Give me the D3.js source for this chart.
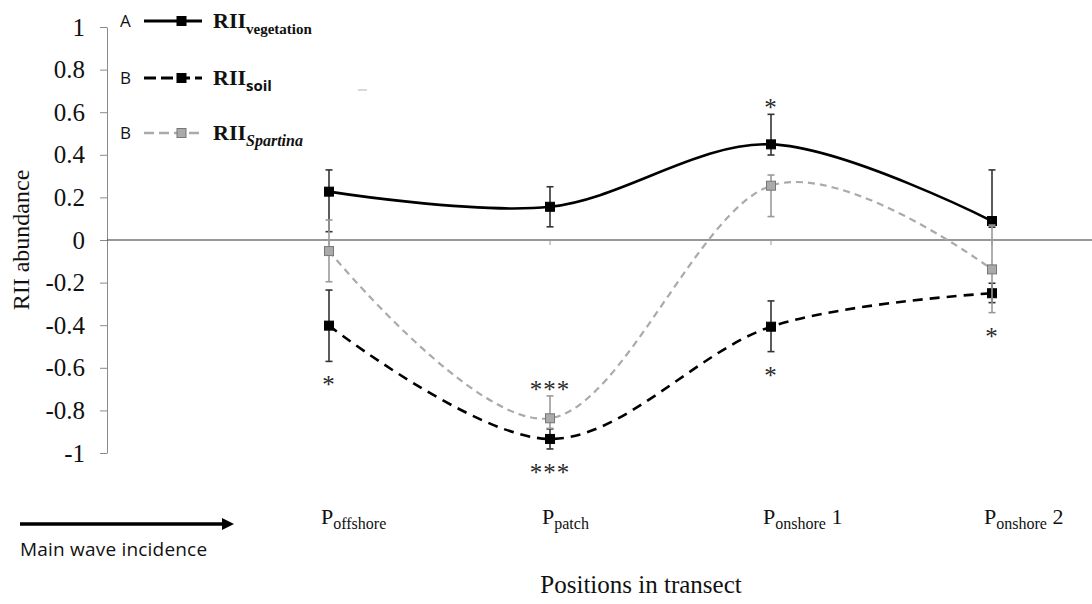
<!DOCTYPE html>
<html>
<head>
<meta charset="utf-8">
<script src="https://cdn.jsdelivr.net/npm/d3@7"></script>
<style>
  body { margin: 0; background: #fff; }
  svg { display: block; }
</style>
</head>
<body>
<div id="chart-area"></div>
<script>
// positions along the transect
var categories = ["Poffshore", "Ppatch", "Ponshore 1", "Ponshore 2"];
var catSub = ["offshore", "patch", "onshore", "onshore"];
var catSuffix = ["", "", " 1", " 2"];

// RII values and error bar ends
var vegetation = [0.227, 0.156, 0.449, 0.089];
var vegetationLo = [0.039, 0.062, 0.399, 0.06];
var vegetationHi = [0.329, 0.25, 0.59, 0.329];

var soil = [-0.402, -0.934, -0.407, -0.25];
var soilLo = [-0.57, -0.981, -0.524, -0.294];
var soilHi = [-0.235, -0.887, -0.286, -0.203];

var spartina = [-0.052, -0.837, 0.255, -0.138];
var spartinaLo = [-0.196, -0.884, 0.11, -0.341];
var spartinaHi = [0.094, -0.732, 0.305, 0.07];

// significance marks: series, position index, text, side
var sigMarks = [
  ["vegetation", 2, "*", "above"],
  ["soil", 0, "*", "below"],
  ["soil", 1, "***", "below"],
  ["soil", 2, "*", "below"],
  ["spartina", 1, "***", "above"],
  ["spartina", 3, "*", "below"]
];

var yTicks = [1, 0.8, 0.6, 0.4, 0.2, 0, -0.2, -0.4, -0.6, -0.8, -1];
var yTickLabels = ["1", "0.8", "0.6", "0.4", "0.2", "0", "-0.2", "-0.4", "-0.6", "-0.8", "-1"];

var serif = "Liberation Serif, serif";
var sans = "Open Sans, sans-serif";

var svg = d3.select("#chart-area").append("svg")
  .attr("width", 1092)
  .attr("height", 604);

var y = d3.scaleLinear().domain([-1, 1]).range([453, 27]);
var x = d3.scalePoint().domain(categories).range([329, 992]);

// y axis
var yAxis = svg.append("g")
  .attr("transform", "translate(107,0)")
  .call(d3.axisLeft(y).tickValues(yTicks)
    .tickFormat(function(d, i) { return yTickLabels[i]; })
    .tickSize(7).tickSizeOuter(0).tickPadding(15));
yAxis.select(".domain").attr("stroke", "#8a8a8a");
yAxis.selectAll(".tick line").attr("stroke", "#8a8a8a");
yAxis.selectAll(".tick text")
  .style("font-family", serif).style("font-size", "25px").attr("fill", "#111");

// zero line with category ticks
svg.append("line")
  .attr("x1", 107).attr("x2", 1092)
  .attr("y1", y(0)).attr("y2", y(0))
  .attr("stroke", "#333").attr("stroke-width", 1.1);
svg.selectAll(".xtick").data(categories).enter().append("line")
  .attr("x1", function(d) { return x(d); }).attr("x2", function(d) { return x(d); })
  .attr("y1", y(0)).attr("y2", y(0) + 5)
  .attr("stroke", "#999");

// y axis title
svg.append("text")
  .attr("transform", "translate(29," + y(0) + ") rotate(-90)")
  .attr("text-anchor", "middle")
  .style("font-family", serif).style("font-size", "24px").attr("fill", "#111")
  .text("RII abundance");

// series
var series = [
  { key: "vegetation", vals: vegetation, lo: vegetationLo, hi: vegetationHi,
    stroke: "#000", width: 2.6, dash: null, err: "#333", fill: "#000", mstroke: "#000" },
  { key: "soil", vals: soil, lo: soilLo, hi: soilHi,
    stroke: "#000", width: 2.6, dash: "10,7", err: "#333", fill: "#000", mstroke: "#000" },
  { key: "spartina", vals: spartina, lo: spartinaLo, hi: spartinaHi,
    stroke: "#aaa", width: 2.2, dash: "7,5", err: "#9a9a9a", fill: "#aaa", mstroke: "#777" }
];

var line = d3.line()
  .x(function(d, i) { return x(categories[i]); })
  .y(function(d) { return y(d); })
  .curve(d3.curveCardinal.tension(0));

series.forEach(function(s) {
  var g = svg.append("g");
  // error bars
  categories.forEach(function(c, i) {
    g.append("line")
      .attr("x1", x(c)).attr("x2", x(c))
      .attr("y1", y(s.lo[i])).attr("y2", y(s.hi[i]))
      .attr("stroke", s.err).attr("stroke-width", 1.6);
    [s.lo[i], s.hi[i]].forEach(function(v) {
      g.append("line")
        .attr("x1", x(c) - 3.5).attr("x2", x(c) + 3.5)
        .attr("y1", y(v)).attr("y2", y(v))
        .attr("stroke", s.err).attr("stroke-width", 1.6);
    });
  });
  g.append("path")
    .attr("d", line(s.vals))
    .attr("fill", "none")
    .attr("stroke", s.stroke)
    .attr("stroke-width", s.width)
    .attr("stroke-dasharray", s.dash);
  g.selectAll("rect").data(s.vals).enter().append("rect")
    .attr("x", function(d, i) { return x(categories[i]) - 4.5; })
    .attr("y", function(d) { return y(d) - 4.5; })
    .attr("width", 9).attr("height", 9)
    .attr("fill", s.fill).attr("stroke", s.mstroke).attr("stroke-width", 1);
});

// significance asterisks
sigMarks.forEach(function(m) {
  var s = series.filter(function(d) { return d.key === m[0]; })[0];
  var i = m[1];
  var cy = m[3] === "above" ? y(s.hi[i]) - 11 : y(s.lo[i]) + 19;
  svg.append("text")
    .attr("x", x(categories[i])).attr("y", cy).attr("dy", "0.52em")
    .attr("text-anchor", "middle")
    .style("font-family", serif).style("font-size", "25px").attr("fill", "#2a2a2a")
    .attr("letter-spacing", 1)
    .text(m[2]);
});

// category labels
var labels = svg.selectAll(".xlab").data(categories).enter().append("text")
  .attr("x", function(d) { return x(d) - 8; })
  .attr("y", 524)
  .style("font-family", serif).style("font-size", "22px").attr("fill", "#111");
labels.append("tspan").text("P");
labels.append("tspan").style("font-size", "16px").attr("dy", 5)
  .text(function(d, i) { return catSub[i]; });
labels.append("tspan").attr("dy", -5)
  .text(function(d, i) { return catSuffix[i]; });

svg.append("text")
  .attr("x", 641).attr("y", 593)
  .attr("text-anchor", "middle")
  .style("font-family", serif).style("font-size", "25px").attr("fill", "#111")
  .text("Positions in transect");

// wave arrow
svg.append("line")
  .attr("x1", 20).attr("x2", 224).attr("y1", 524).attr("y2", 524)
  .attr("stroke", "#000").attr("stroke-width", 3.5);
svg.append("path")
  .attr("d", "M 222 518 L 234 524 L 222 530 Z")
  .attr("fill", "#000");
svg.append("text")
  .attr("x", 20).attr("y", 556)
  .style("font-family", sans).style("font-size", "19px").attr("fill", "#111")
  .attr("letter-spacing", 0.2)
  .text("Main wave incidence");

// legend
var legendRows = [
  { letter: "A", key: "vegetation", sub: "vegetation", subFont: serif, subStyle: "normal", subSize: 15 },
  { letter: "B", key: "soil", sub: "soil", subFont: sans, subStyle: "normal", subSize: 15 },
  { letter: "B", key: "spartina", sub: "Spartina", subFont: serif, subStyle: "italic", subSize: 16 }
];
var legendY = [21, 78, 133];

legendRows.forEach(function(r, i) {
  var s = series.filter(function(d) { return d.key === r.key; })[0];
  var ly = legendY[i];
  svg.append("text")
    .attr("x", 120).attr("y", ly + 6)
    .style("font-family", sans).style("font-size", "17px").attr("fill", "#111")
    .text(r.letter);
  svg.append("line")
    .attr("x1", 144).attr("x2", 202).attr("y1", ly).attr("y2", ly)
    .attr("stroke", s.stroke).attr("stroke-width", s.width + 0.4)
    .attr("stroke-dasharray", s.dash ? (r.key === "soil" ? "12,5" : "10,5") : null);
  svg.append("rect")
    .attr("x", 177).attr("y", ly - 4.5).attr("width", 9).attr("height", 9)
    .attr("fill", s.fill).attr("stroke", s.mstroke);
  var t = svg.append("text")
    .attr("x", 213).attr("y", ly + 7)
    .style("font-family", serif).style("font-size", "22px")
    .style("font-weight", "bold").attr("fill", "#111");
  t.append("tspan").text("RII");
  t.append("tspan").attr("dy", 6)
    .style("font-family", r.subFont).style("font-size", r.subSize + "px")
    .style("font-style", r.subStyle)
    .text(r.sub);
});

// faint stray mark next to the soil legend entry
svg.append("line")
  .attr("x1", 358).attr("x2", 367).attr("y1", 90).attr("y2", 90)
  .attr("stroke", "#ccc").attr("stroke-width", 1.5);
</script>
</body>
</html>
